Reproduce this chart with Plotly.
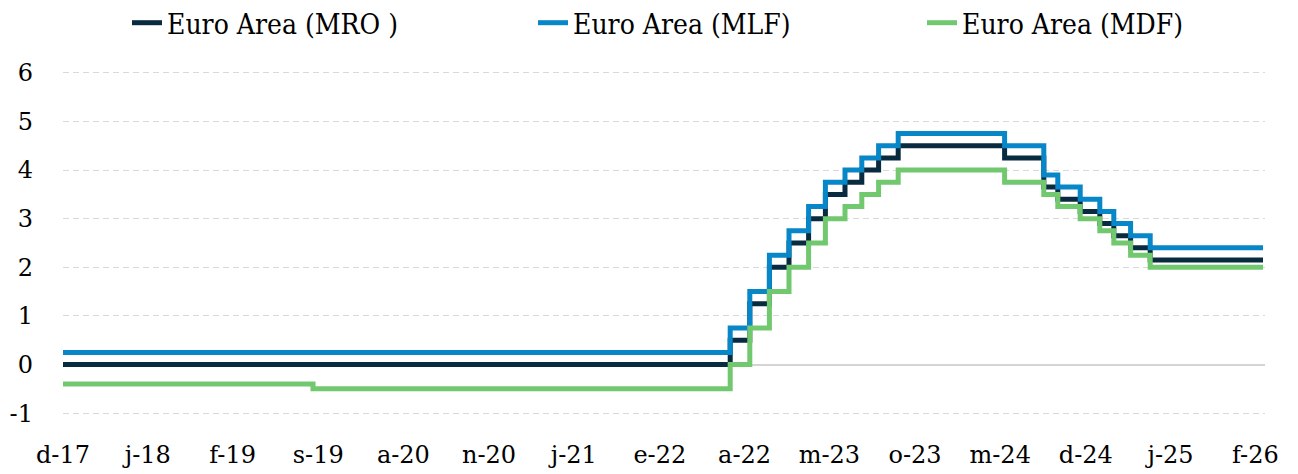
import plotly.graph_objects as go

# ECB policy rates, change points (effective dates); last row = end of series
dates = ["2018-01-01", "2019-09-18", "2022-07-27", "2022-09-14", "2022-11-02",
         "2022-12-21", "2023-02-08", "2023-03-22", "2023-05-10", "2023-06-21",
         "2023-08-02", "2023-09-20", "2024-06-12", "2024-09-18", "2024-10-23",
         "2024-12-18", "2025-02-05", "2025-03-12", "2025-04-23", "2025-06-11",
         "2026-03-20"]
mro = [0.00, 0.00, 0.50, 1.25, 2.00, 2.50, 3.00, 3.50, 3.75, 4.00, 4.25, 4.50,
       4.25, 3.65, 3.40, 3.15, 2.90, 2.65, 2.40, 2.15, 2.15]
mlf = [0.25, 0.25, 0.75, 1.50, 2.25, 2.75, 3.25, 3.75, 4.00, 4.25, 4.50, 4.75,
       4.50, 3.90, 3.65, 3.40, 3.15, 2.90, 2.65, 2.40, 2.40]
mdf = [-0.40, -0.50, 0.00, 0.75, 1.50, 2.00, 2.50, 3.00, 3.25, 3.50, 3.75, 4.00,
       3.75, 3.50, 3.25, 3.00, 2.75, 2.50, 2.25, 2.00, 2.00]

tick_dates = ["2018-01-01", "2018-08-01", "2019-03-01", "2019-10-01", "2020-05-01",
              "2020-12-01", "2021-07-01", "2022-02-01", "2022-09-01", "2023-04-01",
              "2023-11-01", "2024-06-01", "2025-01-01", "2025-08-01", "2026-03-01"]
tick_text = ["d-17", "j-18", "f-19", "s-19", "a-20", "n-20", "j-21", "e-22",
             "a-22", "m-23", "o-23", "m-24", "d-24", "j-25", "f-26"]
y_ticks = [-1, 0, 1, 2, 3, 4, 5, 6]
y_text = ["-1", "0", "1", "2", "3", "4", "5", "6"]

FONT = "DejaVu Serif"
LEG_FONT = "DejaVu Serif Condensed, DejaVu Serif"
series = [
    ("Euro Area (MRO )", mro, "#082B3F", "legend"),
    ("Euro Area (MLF)", mlf, "#0786C8", "legend2"),
    ("Euro Area (MDF)", mdf, "#72C86F", "legend3"),
]

fig = go.Figure()
for name, vals, col, leg in series:
    fig.add_trace(go.Scatter(x=dates, y=vals, name=name, mode="lines",
                             line=dict(color=col, width=5, shape="hv"),
                             legend=leg, showlegend=True))

# page body has an 8px margin, so the figure is sized to fit inside it
W, H = 1290, 466
ml, mr, mt, mb = 55, 33, 60, 56
pw = W - ml - mr
ph = H - mt - mb

def px2paper(px):
    return (px - ml) / pw

leg_common = dict(orientation="h", yanchor="middle", y=1 + (mt - 15) / ph,
                  xanchor="left", font=dict(family=LEG_FONT, size=28, color="#000000"),
                  bgcolor="rgba(0,0,0,0)", itemwidth=30)

fig.update_layout(
    width=W, height=H,
    margin=dict(l=ml, r=mr, t=mt, b=mb, autoexpand=False),
    plot_bgcolor="white", paper_bgcolor="white",
    font=dict(family=FONT, size=24, color="#000000"),
    showlegend=True,
    legend=dict(leg_common, x=px2paper(119)),
    legend2=dict(leg_common, x=px2paper(525)),
    legend3=dict(leg_common, x=px2paper(914)),
)
fig.update_xaxes(
    type="date", range=["2018-01-01", "2026-03-25"], automargin=False,
    tickvals=tick_dates, ticktext=tick_text, showgrid=False, showline=False,
    zeroline=False, ticks="", ticklabelstandoff=20,
    tickfont=dict(family=FONT, size=24, color="#000000"),
)
fig.update_yaxes(
    range=[-1.1, 6.1], tickvals=y_ticks, ticktext=y_text, automargin=False,
    showgrid=True, gridcolor="#D9D9D9", gridwidth=1.3, griddash="6px,4px",
    zeroline=True, zerolinecolor="#D4D4D4", zerolinewidth=1.5,
    showline=False, ticks="", ticklabelstandoff=29,
    tickfont=dict(family=FONT, size=24, color="#000000"),
)

fig.write_html("out.html")
